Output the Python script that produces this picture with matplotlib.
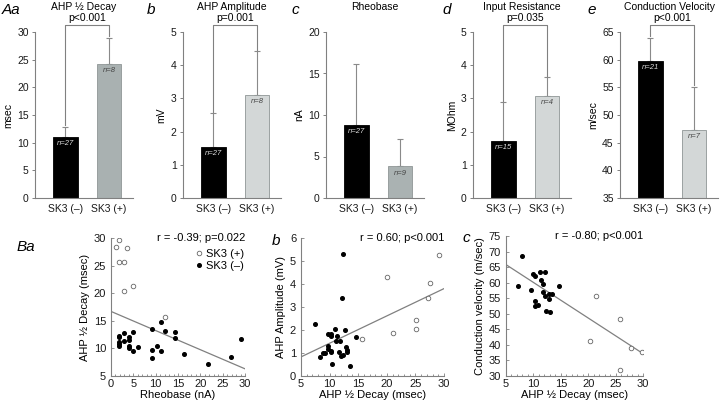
import numpy as np
import matplotlib.pyplot as plt

plt.rcParams['font.family'] = ['Liberation Sans', 'DejaVu Sans']
plt.rcParams['font.size'] = 7.5
plt.rcParams['axes.edgecolor'] = '#808080'
plt.rcParams['xtick.color'] = '#808080'
plt.rcParams['ytick.color'] = '#808080'
plt.rcParams['xtick.labelcolor'] = '#1a1a1a'
plt.rcParams['ytick.labelcolor'] = '#1a1a1a'

groups = ['SK3 (–)', 'SK3 (+)']

# top row (A): bar means, upper error, n per group
titles = ['AHP ½ Decay', 'AHP Amplitude', 'Rheobase', 'Input Resistance', 'Conduction Velocity']
units = ['msec', 'mV', 'nA', 'MOhm', 'm/sec']
tags_A = ['Aa', 'b', 'c', 'd', 'e']
mean_neg = [11.1, 1.55, 8.8, 1.72, 59.7]
mean_pos = [24.2, 3.1, 3.8, 3.08, 47.3]
err_neg = [1.8, 1.0, 7.3, 1.16, 4.3]
err_pos = [4.8, 1.32, 3.3, 0.55, 7.8]
n_neg = [27, 27, 27, 15, 21]
n_pos = [8, 8, 9, 4, 7]
pvals = ['p<0.001', 'p=0.001', None, 'p=0.035', 'p<0.001']
ylims = [(0, 30), (0, 5), (0, 20), (0, 5), (35, 65)]
ysteps = [5, 1, 5, 1, 5]

# bottom row (B): scatter data
ba_pos_x = [1.1, 1.9, 3.5, 1.8, 2.9, 2.9, 5.0, 12.2]
ba_pos_y = [28.3, 29.7, 28.2, 25.6, 25.6, 20.4, 21.3, 15.7]
ba_neg_x = [1.9, 1.9, 1.9, 1.9, 1.9, 2.9, 2.9, 4.0, 4.0, 4.0, 4.0, 5.0, 5.0, 6.0,
            9.1, 9.1, 9.1, 10.2, 11.2, 11.3, 12.2, 14.3, 14.3, 16.4, 21.7, 26.8, 29.0]
ba_neg_y = [12.2, 12.0, 11.2, 10.8, 10.4, 12.8, 11.4, 12.0, 11.6, 10.4, 10.1, 13.0, 9.6, 10.2,
            13.5, 9.7, 8.2, 10.4, 9.6, 14.8, 13.1, 12.9, 11.9, 9.0, 7.2, 8.5, 11.7]
ba_fit_x = [0, 30]
ba_fit_y = [16.7, 6.3]

bb_pos_x = [15.7, 20.0, 21.0, 25.1, 25.1, 27.2, 27.6, 29.1]
bb_pos_y = [1.63, 4.30, 1.89, 2.43, 2.05, 3.41, 4.03, 5.27]
bb_neg_x = [7.4, 12.3, 12.2, 10.9, 12.7, 9.8, 10.3, 10.3, 11.3, 14.7, 11.2, 11.9, 9.7, 9.7,
            10.2, 10.3, 8.8, 9.2, 11.7, 12.8, 13.0, 13.0, 12.0, 12.4, 8.3, 10.5, 13.5]
bb_neg_y = [2.27, 5.30, 3.41, 2.04, 2.00, 1.81, 1.82, 1.73, 1.76, 1.70, 1.51, 1.51, 1.30, 1.19,
            1.09, 1.05, 1.00, 1.00, 1.05, 1.24, 1.15, 1.03, 0.89, 0.93, 0.83, 0.51, 0.44]
bb_fit_x = [5, 30]
bb_fit_y = [0.83, 3.80]

bc_pos_x = [21.4, 25.8, 20.4, 27.8, 29.8, 25.8]
bc_pos_y = [55.7, 48.2, 41.2, 39.1, 37.6, 32.0]
bc_neg_x = [8.0, 7.2, 10.0, 10.3, 11.2, 12.1, 11.4, 11.8, 14.7, 9.6, 11.8, 12.9, 13.4, 12.2,
            12.8, 10.3, 10.3, 10.9, 12.3, 13.0]
bc_neg_y = [68.5, 58.8, 62.9, 62.2, 63.3, 63.3, 60.9, 59.5, 58.9, 57.7, 57.1, 56.2, 56.4, 55.6,
            54.6, 54.2, 52.4, 52.7, 51.0, 50.6]
bc_fit_x = [5, 30]
bc_fit_y = [65.8, 37.2]

pos_colors = ['#a9b1b1', '#d3d7d7', '#aab2b2', '#d3d7d7', '#d3d7d7']

fig = plt.figure(figsize=(7.2, 4.03), dpi=100)

lefts_A = [35, 183, 326, 473, 620]
tag_x_A = [2, 147, 291, 442, 587]
for i in range(5):
    ax = fig.add_axes([lefts_A[i] / 720, 1 - 198 / 403, 98 / 720, 166 / 403])
    lo, hi = ylims[i]
    rng = hi - lo
    ax.bar([0, 1], [mean_neg[i], mean_pos[i]], width=0.56, bottom=0,
           color=['black', pos_colors[i]], edgecolor=['black', '#8f9696'], linewidth=0.6, zorder=2)
    ax.errorbar([0, 1], [mean_neg[i], mean_pos[i]],
                yerr=[[0, 0], [err_neg[i], err_pos[i]]], fmt='none',
                ecolor='#8a8a8a', elinewidth=0.8, capsize=2, capthick=0.8, zorder=1)
    ax.set_xlim(-0.7, 1.55)
    ax.set_ylim(lo, hi)
    ax.set_yticks(np.arange(lo, hi + 0.01, ysteps[i]))
    ax.set_xticks([0, 1])
    ax.set_xticklabels(groups)
    ax.tick_params(axis='x', length=0, pad=4, labelsize=7.5)
    ax.tick_params(axis='y', length=2.5, width=0.7, pad=2, labelsize=7.5)
    for s in ['top', 'right']:
        ax.spines[s].set_visible(False)
    ax.set_ylabel(units[i], labelpad=3)
    ax.text(0.5, 1.15, titles[i], transform=ax.transAxes, ha='center', va='center', fontsize=7.5)
    ax.text(0, mean_neg[i] - 0.04 * rng, 'n=%d' % n_neg[i], ha='center', va='center',
            fontsize=5.5, style='italic', color='#dddddd')
    ax.text(1, mean_pos[i] - 0.04 * rng, 'n=%d' % n_pos[i], ha='center', va='center',
            fontsize=5.5, style='italic', color='#444444')
    if pvals[i] is not None:
        yb = hi + 0.042 * rng
        y0 = mean_neg[i] + err_neg[i] + 0.01 * rng
        y1 = mean_pos[i] + err_pos[i] + 0.01 * rng
        ax.plot([0, 0, 1, 1], [y0, yb, yb, y1], color='#808080', lw=0.8, clip_on=False)
        ax.text(0.5, yb + 0.01 * rng, pvals[i], ha='center', va='bottom', fontsize=7.5)
    fig.text(tag_x_A[i] / 720, 1 - 10 / 403, tags_A[i], fontsize=11, style='italic', va='center')


def scatter_panel(rect, px, py, nx, ny, fx, fy, xlim, ylim, xstep, ystep, xlabel, ylabel, stat):
    ax = fig.add_axes(rect)
    ax.plot(fx, fy, color='#808080', lw=0.9, zorder=1)
    ax.plot(px, py, 'o', ms=3.3, mfc='white', mec='#666666', mew=0.6, ls='none', zorder=2, label='SK3 (+)')
    ax.plot(nx, ny, 'o', ms=2.6, color='black', ls='none', zorder=3, label='SK3 (–)')
    ax.set_xlim(*xlim)
    ax.set_ylim(*ylim)
    ax.set_xticks(np.arange(xlim[0], xlim[1] + 0.01, xstep))
    ax.set_xticks(np.arange(xlim[0], xlim[1] + 0.01, 1), minor=True)
    ax.set_yticks(np.arange(ylim[0], ylim[1] + 0.01, ystep))
    ax.tick_params(which='both', direction='in', width=0.6, labelsize=8)
    ax.tick_params(which='major', length=2.5)
    ax.tick_params(which='minor', length=1.8)
    ax.tick_params(axis='x', pad=2)
    for s in ['top', 'right']:
        ax.spines[s].set_visible(False)
    ax.set_xlabel(xlabel, fontsize=8, labelpad=1)
    ax.set_ylabel(ylabel, fontsize=8, labelpad=3)
    ax.text(1.0, 1.0, stat, transform=ax.transAxes, ha='right', va='center', fontsize=8)
    return ax


ax = scatter_panel([111 / 720, 1 - 376 / 403, 134 / 720, 138 / 403],
                   ba_pos_x, ba_pos_y, ba_neg_x, ba_neg_y, ba_fit_x, ba_fit_y,
                   (0, 30), (5, 30), 5, 5, 'Rheobase (nA)', 'AHP ½ Decay (msec)',
                   'r = -0.39; p=0.022')
ax.legend(loc='upper right', bbox_to_anchor=(1.03, 0.95), frameon=False, fontsize=8,
          handlelength=0.6, handletextpad=0.4, labelspacing=0.15, borderaxespad=0)

scatter_panel([301 / 720, 1 - 376 / 403, 143 / 720, 138 / 403],
              bb_pos_x, bb_pos_y, bb_neg_x, bb_neg_y, bb_fit_x, bb_fit_y,
              (5, 30), (0, 6), 5, 1, 'AHP ½ Decay (msec)', 'AHP Amplitude (mV)',
              'r = 0.60; p<0.001')

scatter_panel([506 / 720, 1 - 376 / 403, 137 / 720, 140 / 403],
              bc_pos_x, bc_pos_y, bc_neg_x, bc_neg_y, bc_fit_x, bc_fit_y,
              (5, 30), (30, 75), 5, 5, 'AHP ½ Decay (msec)', 'Conduction velocity (m/sec)',
              'r = -0.80; p<0.001')

fig.text(17 / 720, 1 - 247 / 403, 'Ba', fontsize=11, style='italic', va='center')
fig.text(272 / 720, 1 - 241 / 403, 'b', fontsize=11, style='italic', va='center')
fig.text(462 / 720, 1 - 238 / 403, 'c', fontsize=11, style='italic', va='center')

fig.savefig('out.png', dpi=100)
